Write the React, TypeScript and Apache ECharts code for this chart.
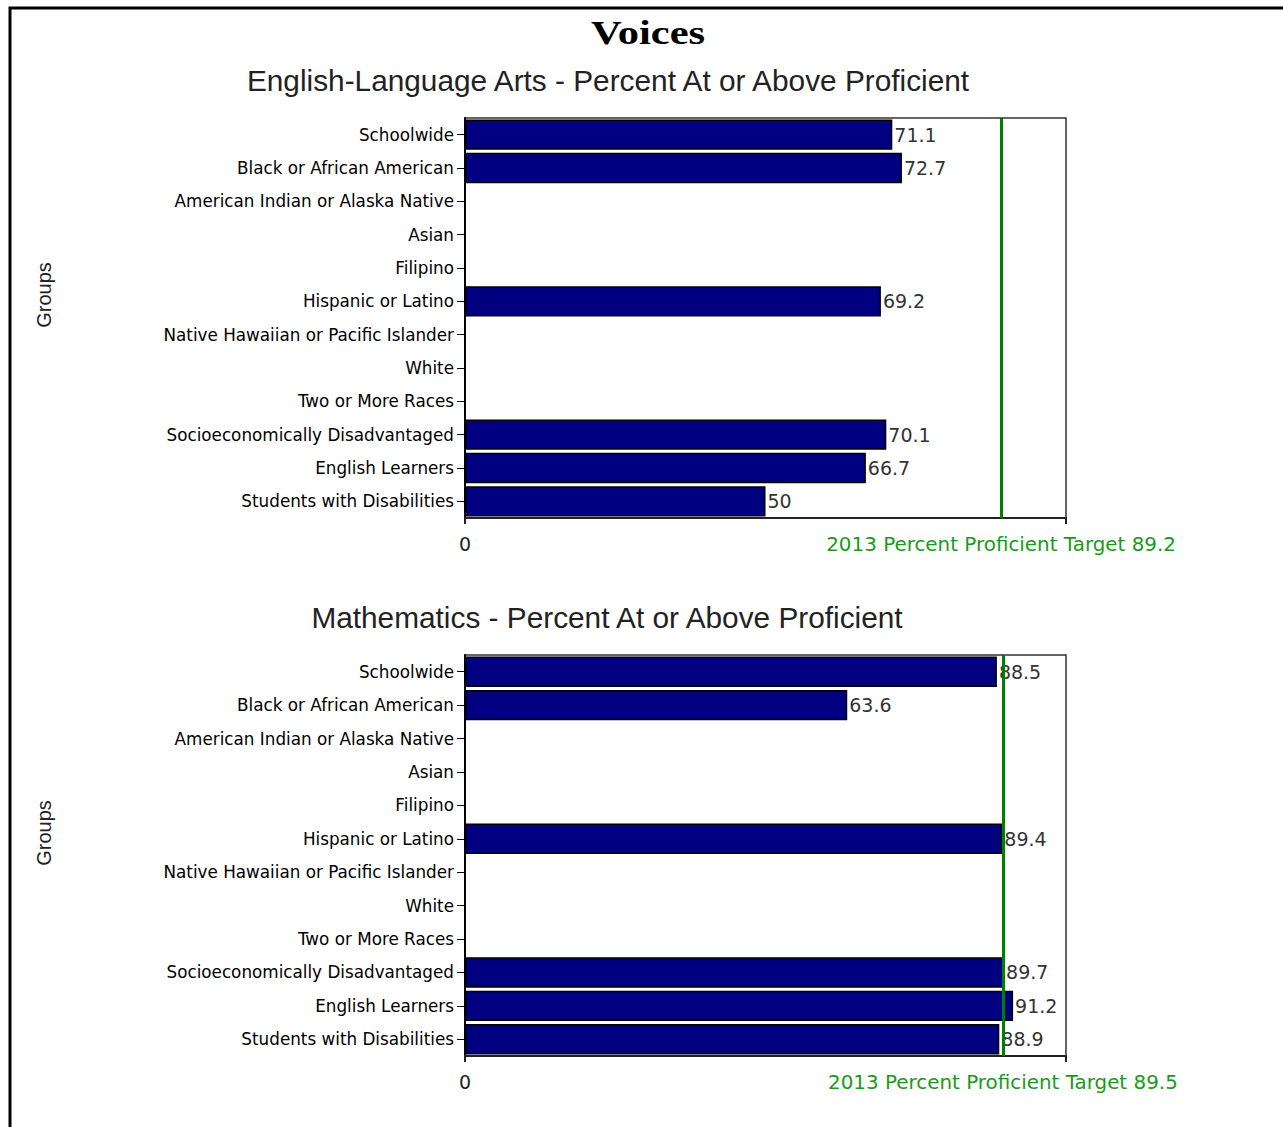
import React, { useEffect, useRef } from "react";
import * as echarts from "echarts";

const groups = [
  "Schoolwide",
  "Black or African American",
  "American Indian or Alaska Native",
  "Asian",
  "Filipino",
  "Hispanic or Latino",
  "Native Hawaiian or Pacific Islander",
  "White",
  "Two or More Races",
  "Socioeconomically Disadvantaged",
  "English Learners",
  "Students with Disabilities",
];

const elaValues: (number | null)[] = [71.1, 72.7, null, null, null, 69.2, null, null, null, 70.1, 66.7, 50];
const mathValues: (number | null)[] = [88.5, 63.6, null, null, null, 89.4, null, null, null, 89.7, 91.2, 88.9];

const elaTarget = 89.2;
const mathTarget = 89.5;

const mainTitle = "Voices";
const elaTitle = "English-Language Arts - Percent At or Above Proficient";
const mathTitle = "Mathematics - Percent At or Above Proficient";
const targetLabel = "2013 Percent Proficient Target";
const axisName = "Groups";

const SMALL = "DejaVu Sans";
const SANS = "Liberation Sans";

export default function App() {
  const ref = useRef<HTMLDivElement>(null);

  useEffect(() => {
    if (!ref.current) return;
    const chart = echarts.init(ref.current, undefined, { renderer: "svg" });

    const grids = [
      { left: 465, top: 118, width: 601, height: 400 },
      { left: 465, top: 655, width: 601, height: 401 },
    ];

    const makeX = (gridIndex: number) => ({
      type: "value",
      gridIndex,
      min: 0,
      max: 100,
      interval: 100,
      axisLine: { show: true, lineStyle: { color: "#222", width: 2 } },
      axisTick: { show: true, length: 6, lineStyle: { color: "#222", width: 2 } },
      axisLabel: {
        formatter: (v: number) => (v === 0 ? "0" : ""),
        fontFamily: SMALL,
        fontSize: 19,
        color: "#222",
        margin: 16,
      },
      splitLine: { show: false },
    });

    const makeY = (gridIndex: number) => ({
      type: "category",
      gridIndex,
      inverse: true,
      data: groups,
      axisLine: { show: true, lineStyle: { color: "#000", width: 2 } },
      axisTick: { show: true, alignWithLabel: true, length: 8, lineStyle: { color: "#000", width: 1 } },
      axisLabel: { fontFamily: SMALL, fontSize: 16.8, color: "#000", margin: 11 },
      splitLine: { show: false },
    });

    const makeSeries = (idx: number, values: (number | null)[], target: number) => ({
      type: "bar",
      xAxisIndex: idx,
      yAxisIndex: idx,
      data: values,
      barCategoryGap: "9%",
      itemStyle: { color: "#000080", borderColor: "#000", borderWidth: 1.5 },
      label: {
        show: true,
        position: "right",
        distance: 2,
        fontFamily: SMALL,
        fontSize: 19,
        color: "#333",
        formatter: (p: any) => (p.value == null ? "" : String(p.value)),
      },
      markLine: {
        silent: true,
        symbol: ["none", "none"],
        lineStyle: { color: "#008000", width: 3, type: "solid" },
        label: {
          show: true,
          position: "end",
          distance: 16,
          fontFamily: SMALL,
          fontSize: 19.9,
          color: "#1a9a1a",
          formatter: `${targetLabel} ${target}`,
        },
        data: [{ xAxis: target }],
        z: 10,
      },
    });

    const groupsLabel = (y: number) => ({
      type: "text",
      x: 44,
      y,
      rotation: Math.PI / 2,
      silent: true,
      style: {
        text: axisName,
        fontFamily: SANS,
        fontSize: 20,
        fill: "#222",
        textAlign: "center",
        textVerticalAlign: "middle",
      },
    });

    chart.setOption({
      animation: false,
      backgroundColor: "#fff",
      title: [
        {
          text: elaTitle,
          left: 603,
          top: 60,
          textAlign: "center",
          textStyle: { fontFamily: SANS, fontWeight: "normal", fontSize: 29.8, color: "#222" },
        },
        {
          text: mathTitle,
          left: 602,
          top: 597,
          textAlign: "center",
          textStyle: { fontFamily: SANS, fontWeight: "normal", fontSize: 29.8, color: "#222" },
        },
      ],
      grid: grids.map((g) => ({ ...g, show: true, borderColor: "#333", borderWidth: 1.5, backgroundColor: "transparent", containLabel: false })),
      xAxis: [makeX(0), makeX(1)],
      yAxis: [makeY(0), makeY(1)],
      series: [makeSeries(0, elaValues, elaTarget), makeSeries(1, mathValues, mathTarget)],
      graphic: [
        {
          type: "polyline",
          shape: { points: [[10, 1140], [10, 8], [1290, 8]] },
          style: { stroke: "#000", lineWidth: 3, fill: "none" },
          silent: true,
        },
        {
          type: "text",
          x: 648,
          y: 33,
          scaleX: 1.25,
          silent: true,
          style: {
            text: mainTitle,
            fontFamily: "Liberation Serif",
            fontWeight: "bold",
            fontSize: 34,
            fill: "#000",
            textAlign: "center",
            textVerticalAlign: "middle",
          },
        },
        groupsLabel(295),
        groupsLabel(833),
      ],
    });

    return () => chart.dispose();
  }, []);

  return (
    <div
      ref={ref}
      style={{ position: "absolute", left: 0, top: 0, width: 1283, height: 1127 }}
    />
  );
}
